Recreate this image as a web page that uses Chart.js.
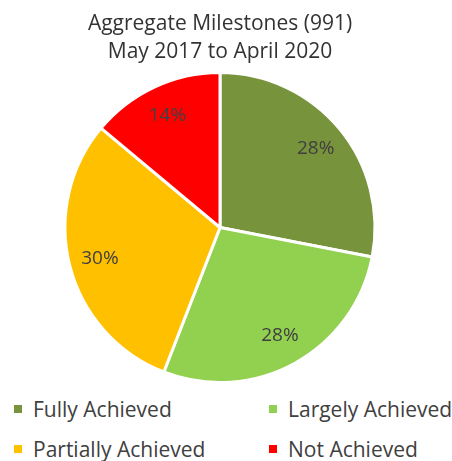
<!DOCTYPE html>
<html>
<head>
<meta charset="utf-8">
<script src="https://cdn.jsdelivr.net/npm/chart.js@4/dist/chart.umd.min.js"></script>
<style>
  html, body { margin: 0; padding: 0; background: #fff; }
  #wrap { position: relative; width: 452px; height: 461px; }
  #box { position: absolute; left: 0; top: 0; width: 452px; height: 390px; }
  #legend { position: absolute; left: 0; top: 392px; width: 452px; font-family: "Open Sans", sans-serif;
            font-size: 21px; color: #404040; }
  .item { position: absolute; white-space: nowrap; line-height: 24px; }
  .sw { display: inline-block; width: 8px; height: 8px; margin-right: 11px; vertical-align: 4px; }
</style>
</head>
<body>
<div id="wrap">
  <div id="box"><canvas id="pie"></canvas></div>
  <div id="legend"></div>
</div>
<script>
// milestone counts, total 991
const categories = ['Fully Achieved', 'Largely Achieved', 'Partially Achieved', 'Not Achieved'];
const counts = [278, 276, 299, 138];
const colours = ['#77933C', '#92D050', '#FFC000', '#FF0000'];
const titleLines = ['Aggregate Milestones (991)', 'May 2017 to April 2020'];

// legend slots: column x, row y
const legendPos = [[14, 5], [269, 5], [14, 45], [269, 45]];

const pctLabels = {
    id: 'pctLabels',
    afterDatasetsDraw(chart) {
        const ctx = chart.ctx;
        const meta = chart.getDatasetMeta(0);
        const total = counts.reduce((a, b) => a + b, 0);
        ctx.save();
        ctx.font = '19px "Open Sans", sans-serif';
        ctx.fillStyle = '#404040';
        ctx.textAlign = 'center';
        ctx.textBaseline = 'middle';
        meta.data.forEach((arc, i) => {
            const { x, y, startAngle, endAngle, outerRadius } = arc.getProps(['x', 'y', 'startAngle', 'endAngle', 'outerRadius'], true);
            const mid = (startAngle + endAngle) / 2;
            const r = outerRadius * 0.8;
            const txt = Math.round(counts[i] / total * 100) + '%';
            ctx.fillText(txt, x + Math.cos(mid) * r, y + Math.sin(mid) * r);
        });
        ctx.restore();
    }
};

const chart = new Chart(document.getElementById('pie'), {
    type: 'pie',
    data: {
        labels: categories,
        datasets: [{
            data: counts,
            backgroundColor: colours,
            borderColor: '#ffffff',
            borderWidth: 3
        }]
    },
    options: {
        responsive: true,
        maintainAspectRatio: false,
        animation: false,
        layout: { padding: { left: 0, right: 12, top: 0, bottom: 6 } },
        plugins: {
            legend: { display: false },
            tooltip: { enabled: false },
            title: {
                display: true,
                text: titleLines,
                color: '#333333',
                font: { family: '"Open Sans", sans-serif', size: 21, weight: 'normal', lineHeight: 1.333 },
                padding: { top: 10, bottom: 5 }
            }
        }
    },
    plugins: [pctLabels]
});

const legend = document.getElementById('legend');
categories.forEach((name, i) => {
    const el = document.createElement('div');
    el.className = 'item';
    el.style.left = legendPos[i][0] + 'px';
    el.style.top = legendPos[i][1] + 'px';
    el.innerHTML = '<span class="sw" style="background:' + colours[i] + '"></span>' + name;
    legend.appendChild(el);
});
</script>
</body>
</html>
